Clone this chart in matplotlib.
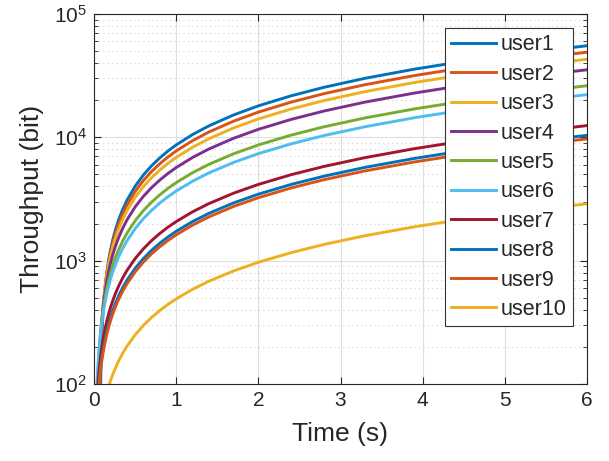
import matplotlib
matplotlib.use('Agg')
from matplotlib import pyplot as plt
from matplotlib.ticker import LogLocator, NullFormatter, MultipleLocator

# time axis (s)
times = [0.03, 0.04, 0.05, 0.06, 0.07, 0.08, 0.09, 0.1, 0.11, 0.12, 0.14, 0.16,
         0.18, 0.2, 0.23, 0.26, 0.3, 0.35, 0.4, 0.5, 0.6, 0.7, 0.8, 0.9, 1.0,
         1.2, 1.4, 1.7, 2.0, 2.4, 2.8, 3.3, 3.9, 4.5, 5.2, 6.0]

# throughput (bit); points under 10^2 are off the chart
user1 = [1, 1, 1, 1, 1, 93, 187, 280, 373, 466, 653, 839, 1026, 1212, 1492, 1772,
         2145, 2611, 3077, 4010, 4942, 5875, 6807, 7740, 8672, 10537, 12402,
         15200, 17997, 21727, 25457, 30120, 35715, 41310, 47837, 55297]
user2 = [1, 1, 1, 1, 83, 165, 248, 330, 413, 495, 660, 825, 990, 1155, 1403, 1650,
         1980, 2393, 2805, 3630, 4455, 5280, 6105, 6930, 7755, 9405, 11055,
         13530, 16005, 19305, 22605, 26730, 31680, 36630, 42405, 49005]
user3 = [1, 1, 1, 72, 145, 217, 289, 361, 434, 506, 650, 795, 940, 1084, 1301, 1518,
         1807, 2168, 2529, 3252, 3975, 4698, 5420, 6143, 6866, 8311, 9756,
         11925, 14093, 16983, 19874, 23488, 27824, 32160, 37219, 43001]
user4 = [1, 1, 59, 118, 178, 237, 296, 355, 415, 474, 592, 711, 829, 948, 1125, 1303,
         1540, 1836, 2132, 2725, 3317, 3909, 4501, 5094, 5686, 6871, 8055,
         9832, 11609, 13978, 16347, 19309, 22863, 26417, 30563, 35301]
user5 = [44, 88, 131, 175, 219, 263, 307, 350, 394, 438, 526, 613, 701, 789, 920, 1051,
         1227, 1446, 1665, 2103, 2541, 2979, 3417, 3855, 4293, 5170, 6046,
         7360, 8674, 10427, 12179, 14370, 16998, 19627, 22694, 26198]
user6 = [74, 111, 148, 185, 222, 259, 296, 334, 371, 408, 482, 556, 630, 704, 815, 927,
         1075, 1260, 1445, 1816, 2187, 2557, 2928, 3298, 3669, 4410, 5151,
         6263, 7375, 8857, 10340, 12193, 14416, 16640, 19234, 22199]
user7 = [62, 83, 104, 125, 145, 166, 187, 208, 228, 249, 291, 332, 374, 415, 477, 540,
         623, 726, 830, 1038, 1245, 1453, 1660, 1868, 2075, 2490, 2905,
         3528, 4150, 4980, 5810, 6848, 8093, 9338, 10790, 12450]
user8 = [52, 69, 87, 104, 121, 138, 156, 173, 190, 208, 242, 277, 311, 346, 398, 450,
         519, 606, 692, 865, 1038, 1211, 1384, 1557, 1730, 2076, 2422,
         2941, 3460, 4152, 4844, 5709, 6747, 7785, 8996, 10380]
user9 = [49, 65, 81, 97, 113, 130, 146, 162, 178, 194, 227, 259, 292, 324, 373, 421,
         486, 567, 648, 810, 972, 1134, 1296, 1458, 1620, 1944, 2268,
         2754, 3240, 3888, 4536, 5346, 6318, 7290, 8424, 9720]
user10 = [24, 29, 34, 38, 43, 48, 53, 58, 62, 67, 77, 86, 96, 106, 120, 134,
          154, 178, 202, 250, 298, 346, 394, 442, 490, 586, 682,
          826, 970, 1162, 1354, 1594, 1882, 2170, 2506, 2890]

series = [user1, user2, user3, user4, user5, user6, user7, user8, user9, user10]
labels = ['user%d' % (i + 1) for i in range(len(series))]

# MATLAB default colour order
colors = ['#0072BD', '#D95319', '#EDB120', '#7E2F8E', '#77AC30',
          '#4DBEEE', '#A2142F']

axcol = '#262626'
plt.rcParams['font.family'] = ['Liberation Sans', 'DejaVu Sans']
plt.rcParams['mathtext.fontset'] = 'custom'
plt.rcParams['mathtext.rm'] = 'Liberation Sans'
plt.rcParams['mathtext.it'] = 'Liberation Sans:italic'

fig = plt.figure(figsize=(6.09, 4.61), dpi=100)
ax = fig.add_axes([94 / 609, 77 / 461, 493 / 609, 370 / 461])

for i, (vals, lab) in enumerate(zip(series, labels)):
    ax.plot(times, vals, color=colors[i % len(colors)], lw=2.1, label=lab)

ax.set_yscale('log')
ax.set_xlim(0, 6)
ax.set_ylim(1e2, 1e5)
ax.xaxis.set_major_locator(MultipleLocator(1))
ax.yaxis.set_major_locator(LogLocator(base=10, numticks=10))
ax.yaxis.set_minor_locator(LogLocator(base=10, subs=range(2, 10), numticks=10))
ax.yaxis.set_minor_formatter(NullFormatter())

ax.grid(True, which='major', color='#dedede', lw=0.8, ls='-')
ax.grid(True, which='minor', axis='y', color='#cfcfcf', lw=0.8, ls=(0, (1, 3)))
ax.set_axisbelow(True)

ax.tick_params(which='both', direction='in', top=True, right=True,
               colors=axcol, labelsize=15, pad=5)
ax.tick_params(which='major', length=5, width=0.8)
ax.tick_params(which='minor', length=3, width=0.6)
for sp in ax.spines.values():
    sp.set_color(axcol)
    sp.set_linewidth(0.8)

ax.set_xlabel('Time (s)', fontsize=19, color=axcol, labelpad=9)
ax.set_ylabel('Throughput (bit)', fontsize=19, color=axcol, labelpad=7)

leg = ax.legend(loc='upper right', fontsize=15.5, frameon=True, fancybox=False,
                edgecolor='#333333', framealpha=1, handlelength=2.1,
                handletextpad=0.2, labelspacing=0.39, borderpad=0.3,
                borderaxespad=0.65)
leg.get_frame().set_linewidth(0.8)
for t in leg.get_texts():
    t.set_color(axcol)

fig.savefig('out.png', dpi=100)
